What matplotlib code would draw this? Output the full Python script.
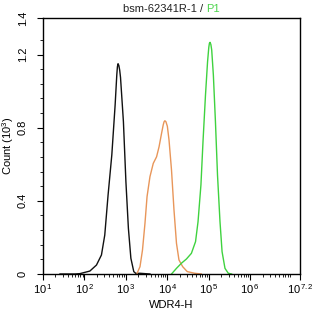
import matplotlib
matplotlib.use("Agg")
import matplotlib.pyplot as plt
import numpy as np
from matplotlib.ticker import FixedLocator, NullFormatter

plt.rcParams['font.family'] = ['Liberation Sans', 'DejaVu Sans']
plt.rcParams['mathtext.fontset'] = 'custom'
plt.rcParams['mathtext.rm'] = 'Liberation Sans'
plt.rcParams['mathtext.it'] = 'Liberation Sans'

# Data: log10(fluorescence) and count (x10^3)
black_logx = [1.41, 1.77, 1.89, 2.13, 2.29, 2.41, 2.49, 2.57, 2.66, 2.74, 2.78, 2.795, 2.81,
              2.83, 2.85, 2.87, 2.94, 3.00, 3.06, 3.12, 3.19, 3.24, 3.34, 3.58]
black_y = [0.0, 0.0, 0.002, 0.016, 0.049, 0.104, 0.213, 0.432, 0.651, 0.924, 1.088, 1.133, 1.150,
           1.140, 1.115, 1.075, 0.833, 0.505, 0.25, 0.086, 0.013, 0.003, 0.004, 0.0]

orange_logx = [3.27, 3.34, 3.40, 3.46, 3.51, 3.58, 3.66, 3.74, 3.80, 3.86, 3.90, 3.92, 3.94,
               3.965, 4.00, 4.04, 4.10, 4.16, 4.22, 4.28, 4.37, 4.48, 4.66, 4.82]
orange_y = [0.004, 0.040, 0.131, 0.277, 0.423, 0.532, 0.605, 0.641, 0.696, 0.769, 0.815, 0.832, 0.838,
            0.833, 0.808, 0.733, 0.569, 0.350, 0.168, 0.077, 0.040, 0.013, 0.004, 0.0]

green_logx = [4.10, 4.22, 4.34, 4.46, 4.58, 4.68, 4.74, 4.81, 4.86, 4.92, 4.97, 5.00, 5.015,
              5.03, 5.05, 5.07, 5.11, 5.16, 5.21, 5.27, 5.32, 5.39, 5.47, 5.55]
green_y = [0.0, 0.031, 0.059, 0.082, 0.113, 0.177, 0.286, 0.487, 0.724, 0.979, 1.161, 1.240, 1.262,
           1.267, 1.255, 1.225, 1.088, 0.833, 0.541, 0.286, 0.122, 0.031, 0.004, 0.0]

x_ticks_exp = [1, 2, 3, 4, 5, 6, 7.2]
x_tick_labels = ['1', '2', '3', '4', '5', '6', '7.2']
y_ticks = [0, 0.4, 0.8, 1.2, 1.4]
y_tick_labels = ['0', '0.4', '0.8', '1.2', '1.4']

fig = plt.figure(figsize=(3.14, 3.17), dpi=100)
ax = fig.add_axes([43/314, 43/317, 257/314, 256/317])

ax.plot(10**np.array(black_logx), black_y, color='#111111', lw=1.0)
ax.plot(10**np.array(orange_logx), orange_y, color='#E8965A', lw=1.0)
ax.plot(10**np.array(green_logx), green_y, color='#3FD23F', lw=1.0)

ax.set_xscale('log')
ax.set_xlim(10**1, 10**7.2)
ax.set_ylim(0, 1.4)

ax.xaxis.set_major_locator(FixedLocator([10**e for e in x_ticks_exp]))
ax.set_xticklabels([r'$10^{\,%s}$' % l for l in x_tick_labels])
minors = [m * 10**d for d in range(1, 7) for m in range(2, 10) if m * 10**d < 10**7.2]
ax.xaxis.set_minor_locator(FixedLocator(minors))
ax.xaxis.set_minor_formatter(NullFormatter())

ax.set_yticks(y_ticks)
ax.set_yticklabels(y_tick_labels, rotation=90, va='center')
ax.yaxis.set_minor_locator(FixedLocator([k * 0.08 for k in range(1, 17) if k % 5 != 0]))

ax.tick_params(axis='both', which='major', direction='out', length=4, width=0.8,
               labelsize=8, colors='black')
ax.tick_params(axis='both', which='minor', direction='out', length=2, width=0.6)
ax.tick_params(axis='x', pad=2)
ax.tick_params(axis='y', pad=7)
for s in ax.spines.values():
    s.set_linewidth(1.0)

ax.set_xlabel('WDR4-H', fontsize=8, labelpad=3)
ax.set_ylabel('Count (10$^{3}$)', fontsize=8)
ax.yaxis.set_label_coords(-27 / 257, 0.5)

# two-colour title
fig.canvas.draw()
t1 = fig.text(0, 0, 'bsm-62341R-1 / ', fontsize=8, color='#222222')
t2 = fig.text(0, 0, 'P1', fontsize=8, color='#4CD44C')
r = fig.canvas.get_renderer()
w1 = t1.get_window_extent(r).width
w2 = t2.get_window_extent(r).width
cx = (43 + 300) / 2 / 314
W = 314
x0 = cx - (w1 + w2) / 2 / W
ty = 1 - 9 / 317
t1.set_position((x0, ty)); t1.set_va('center')
t2.set_position((x0 + w1 / W, ty)); t2.set_va('center')

fig.savefig('out.png', dpi=100)
